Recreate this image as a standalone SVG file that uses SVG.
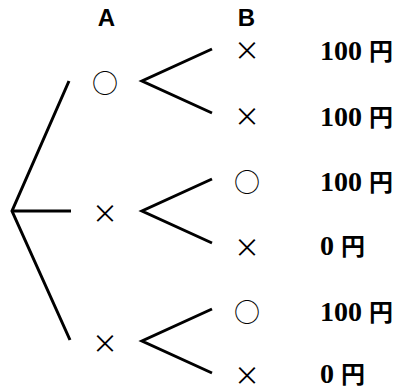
<svg xmlns="http://www.w3.org/2000/svg" width="395" height="390" viewBox="0 0 395 390">
<style>
.hd{font-family:"Liberation Sans",Arial,sans-serif;font-weight:bold;font-size:24px;text-anchor:middle;fill:#000}
.sym{font-family:"Noto Sans CJK JP",sans-serif;font-size:26px;text-anchor:middle;dominant-baseline:central;fill:#000}
.val{font-family:"Liberation Serif","Noto Sans CJK JP",serif;font-weight:bold;font-size:28px;fill:#000}
.yen{font-family:"Noto Sans CJK JP",sans-serif;font-weight:bold;font-size:24px}
.ln{stroke:#000;stroke-width:3;fill:none;stroke-linejoin:miter}
</style>
<rect width="395" height="390" fill="#fff"/>
<text class="hd" x="106.5" y="26">A</text>
<text class="hd" x="246.5" y="26">B</text>
<g id="connectors">
<polyline class="ln" points="69,81 12,211 70,340"/>
<line class="ln" x1="12" y1="211" x2="71" y2="211"/>
<polyline class="ln" points="212,49 142,81 212,113"/>
<polyline class="ln" points="212,179 142,211 212,243"/>
<polyline class="ln" points="212,309 142,341 212,373"/>
</g>
<g id="a1"><text class="sym" x="105" y="81">○</text></g>
<g id="a2"><text class="sym" x="105" y="211">×</text></g>
<g id="a3"><text class="sym" x="105" y="341">×</text></g>
<g id="b1"><text class="sym" x="247" y="48">×</text><text class="val" x="320" y="60">100 <tspan class="yen" x="369">円</tspan></text></g>
<g id="b2"><text class="sym" x="247" y="114">×</text><text class="val" x="320" y="126">100 <tspan class="yen" x="369">円</tspan></text></g>
<g id="b3"><text class="sym" x="247" y="180">○</text><text class="val" x="320" y="191">100 <tspan class="yen" x="369">円</tspan></text></g>
<g id="b4"><text class="sym" x="247" y="245">×</text><text class="val" x="320" y="255">0 <tspan class="yen" x="341">円</tspan></text></g>
<g id="b5"><text class="sym" x="247" y="310">○</text><text class="val" x="320" y="321">100 <tspan class="yen" x="369">円</tspan></text></g>
<g id="b6"><text class="sym" x="247" y="373">×</text><text class="val" x="320" y="383">0 <tspan class="yen" x="341">円</tspan></text></g>
</svg>
